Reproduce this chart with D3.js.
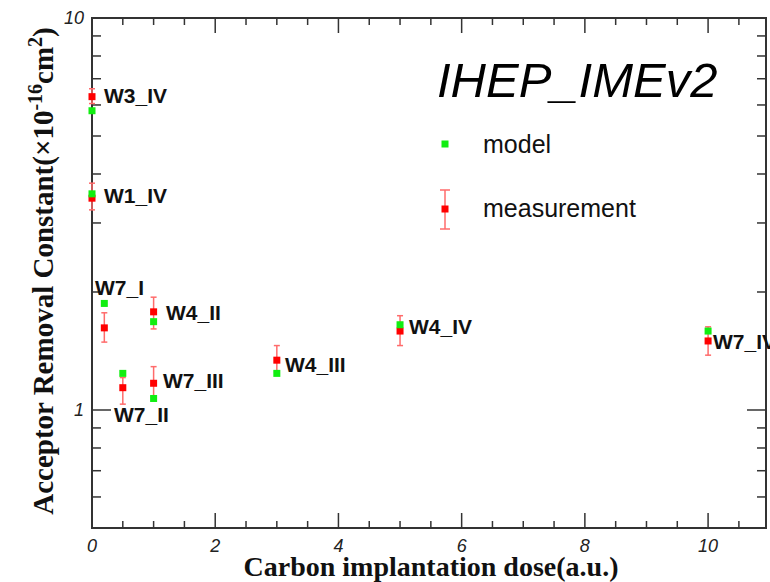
<!DOCTYPE html>
<html>
<head>
<meta charset="utf-8">
<script src="https://cdn.jsdelivr.net/npm/d3@7"></script>
<style>
  body { margin: 0; background: #fff; }
  svg { display: block; }
</style>
</head>
<body>
<svg width="770" height="582"></svg>
<script>
const samples = ['W3_IV', 'W1_IV', 'W7_I', 'W4_II', 'W7_II', 'W7_III', 'W4_III', 'W4_IV', 'W7_IV'];
const dose = [0, 0, 0.2, 1, 0.5, 1, 3, 5, 10];
const modelValues = [5.8, 3.56, 1.87, 1.68, 1.24, 1.07, 1.24, 1.65, 1.59];
const measValues = [6.3, 3.47, 1.62, 1.78, 1.14, 1.17, 1.34, 1.59, 1.50];
const measLow = [6.05, 3.24, 1.49, 1.61, 1.035, 1.08, 1.25, 1.46, 1.38];
const measHigh = [6.6, 3.79, 1.77, 1.94, 1.21, 1.29, 1.46, 1.74, 1.63];
const xTickLabels = [0, 2, 4, 6, 8, 10];
const yTickLabels = [1, 10];

const svg = d3.select('svg');
const pL = 92, pR = 766, pT = 18, pB = 528;

const x = d3.scaleLinear().domain([0, 10.94]).range([pL, pR]);
const y = d3.scaleLog().domain([0.5, 10]).range([pB, pT]);

const axisColor = '#333';

// frame
svg.append('rect')
  .attr('x', pL).attr('y', pT)
  .attr('width', pR - pL).attr('height', pB - pT)
  .attr('fill', 'none').attr('stroke', axisColor).attr('stroke-width', 2);

// x ticks (bottom & top)
const xMinor = d3.range(0.5, 10.94, 0.5);
xMinor.forEach(v => {
  const major = Math.abs(v % 2) < 1e-6;
  const len = major ? 15 : 7;
  svg.append('line').attr('x1', x(v)).attr('x2', x(v))
    .attr('y1', pB).attr('y2', pB - len)
    .attr('stroke', axisColor).attr('stroke-width', 1.5);
  svg.append('line').attr('x1', x(v)).attr('x2', x(v))
    .attr('y1', pT).attr('y2', pT + len)
    .attr('stroke', axisColor).attr('stroke-width', 1.5);
});

// y ticks (left & right)
const yTicks = [0.6, 0.7, 0.8, 0.9, 1, 2, 3, 4, 5, 6, 7, 8, 9];
yTicks.forEach(v => {
  const len = (v === 1) ? 19 : 9;
  svg.append('line').attr('x1', pL).attr('x2', pL + len)
    .attr('y1', y(v)).attr('y2', y(v))
    .attr('stroke', axisColor).attr('stroke-width', 1.5);
  svg.append('line').attr('x1', pR).attr('x2', pR - len)
    .attr('y1', y(v)).attr('y2', y(v))
    .attr('stroke', axisColor).attr('stroke-width', 1.5);
});

// tick labels
svg.selectAll('.xlab').data(xTickLabels).enter().append('text')
  .attr('x', d => x(d)).attr('y', 552)
  .attr('text-anchor', 'middle')
  .attr('font-family', 'Liberation Sans, Arial, sans-serif')
  .attr('font-style', 'italic').attr('font-size', 18).attr('fill', '#222')
  .text(d => d);

svg.selectAll('.ylab').data(yTickLabels).enter().append('text')
  .attr('x', 84).attr('y', d => y(d) + 6)
  .attr('text-anchor', 'end')
  .attr('font-family', 'Liberation Sans, Arial, sans-serif')
  .attr('font-style', 'italic').attr('font-size', 18).attr('fill', '#222')
  .text(d => d);

// axis titles
svg.append('text')
  .attr('x', 431).attr('y', 576)
  .attr('text-anchor', 'middle')
  .attr('font-family', 'Liberation Serif, Times New Roman, serif')
  .attr('font-weight', 'bold').attr('font-size', 28).attr('fill', '#111')
  .text('Carbon implantation dose(a.u.)');

const yt = svg.append('text')
  .attr('transform', 'translate(53,271) rotate(-90)')
  .attr('text-anchor', 'middle')
  .attr('font-family', 'Liberation Serif, Times New Roman, serif')
  .attr('font-weight', 'bold').attr('font-size', 29).attr('fill', '#111');
yt.append('tspan').text('Acceptor Removal Constant(\u00d710');
yt.append('tspan').attr('dy', -11).attr('font-size', 20).text('-16');
yt.append('tspan').attr('dy', 11).text('cm');
yt.append('tspan').attr('dy', -11).attr('font-size', 20).text('2');
yt.append('tspan').attr('dy', 11).text(')');

// error bars
const data = samples.map((s, i) => ({
  s, x: dose[i], m: modelValues[i], v: measValues[i], lo: measLow[i], hi: measHigh[i]
}));

const errColor = '#ff6b6b';
data.forEach(d => {
  svg.append('line').attr('x1', x(d.x)).attr('x2', x(d.x))
    .attr('y1', y(d.lo)).attr('y2', y(d.hi))
    .attr('stroke', errColor).attr('stroke-width', 1.5);
  [d.lo, d.hi].forEach(e => {
    svg.append('line').attr('x1', x(d.x) - 3).attr('x2', x(d.x) + 3)
      .attr('y1', y(e)).attr('y2', y(e))
      .attr('stroke', errColor).attr('stroke-width', 1.5);
  });
});

const ms = 7;
svg.selectAll('.meas').data(data).enter().append('rect')
  .attr('x', d => x(d.x) - ms / 2).attr('y', d => y(d.v) - ms / 2)
  .attr('width', ms).attr('height', ms).attr('fill', '#ff0000');

svg.selectAll('.model').data(data).enter().append('rect')
  .attr('x', d => x(d.x) - ms / 2).attr('y', d => y(d.m) - ms / 2)
  .attr('width', ms).attr('height', ms).attr('fill', '#11ee11');

// sample labels
const labelPos = {
  W3_IV: [104, 103], W1_IV: [104, 203], W7_I: [95, 295], W4_II: [166, 320],
  W7_II: [114, 422], W7_III: [163, 388], W4_III: [285, 372], W4_IV: [409, 334], W7_IV: [713, 349]
};
svg.selectAll('.slab').data(samples).enter().append('text')
  .attr('x', d => labelPos[d][0]).attr('y', d => labelPos[d][1])
  .attr('font-family', 'Liberation Sans, Arial, sans-serif')
  .attr('font-weight', 'bold').attr('font-size', 21).attr('fill', '#111')
  .text(d => d);

// title
svg.append('text')
  .attr('x', 437).attr('y', 97)
  .attr('font-family', 'Liberation Sans, Arial, sans-serif')
  .attr('font-style', 'italic').attr('font-size', 49).attr('fill', '#000')
  .text('IHEP_IMEv2');

// legend
svg.append('rect').attr('x', 445 - 3.5).attr('y', 144 - 3.5)
  .attr('width', ms).attr('height', ms).attr('fill', '#11ee11');
svg.append('text').attr('x', 483).attr('y', 153)
  .attr('font-family', 'Liberation Sans, Arial, sans-serif')
  .attr('font-size', 25).attr('fill', '#111').text('model');

svg.append('line').attr('x1', 445).attr('x2', 445).attr('y1', 190).attr('y2', 229)
  .attr('stroke', errColor).attr('stroke-width', 1.5);
[190, 229].forEach(e => svg.append('line').attr('x1', 440).attr('x2', 450)
  .attr('y1', e).attr('y2', e).attr('stroke', errColor).attr('stroke-width', 1.5));
svg.append('rect').attr('x', 445 - 3.5).attr('y', 209 - 3.5)
  .attr('width', ms).attr('height', ms).attr('fill', '#ff0000');
svg.append('text').attr('x', 483).attr('y', 217)
  .attr('font-family', 'Liberation Sans, Arial, sans-serif')
  .attr('font-size', 25).attr('fill', '#111').text('measurement');
</script>
</body>
</html>
